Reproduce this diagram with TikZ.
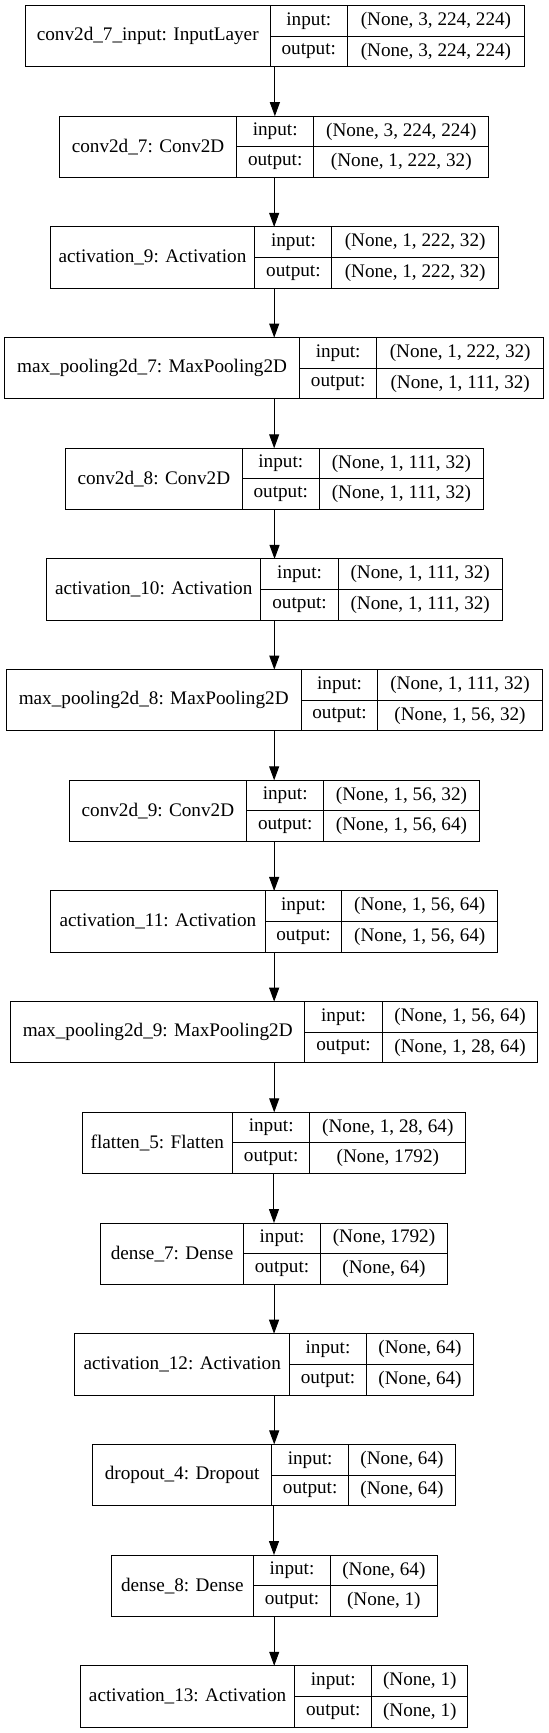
\documentclass[tikz,border=0pt]{standalone}
\usepackage{fontspec}
\setmainfont{Liberation Serif}
\usetikzlibrary{arrows.meta}
\newcommand\layerrow[9]{%
  \pgfmathsetmacro\wA{(#4-#3)*0.8285}%
  \pgfmathsetmacro\wB{(#5-#4)*0.8285}%
  \pgfmathsetmacro\wC{(#6-#5)*0.8285}%
  \pgfmathsetmacro\wT{(#6-#3)*0.8285}%
  \node[outerbox, minimum width=\wT pt] (#1) at (#3,#2) {};
  \node[cell, minimum width=\wA pt, minimum height=45.98pt] (#1-name) at (#3,#2) {#7};
  \node[cell, minimum width=\wB pt, minimum height=22.99pt] (#1-ik) at (#4,#2) {input:};
  \node[cell, minimum width=\wB pt, minimum height=22.99pt] (#1-ok) at (#1-ik.south west) {output:};
  \node[cell, minimum width=\wC pt, minimum height=22.99pt] (#1-iv) at (#5,#2) {#8};
  \node[cell, minimum width=\wC pt, minimum height=22.99pt] (#1-ov) at (#1-iv.south west) {#9};
}
\begin{document}
\begin{tikzpicture}[x=0.8285pt, y=-0.8285pt,
  cell/.style={draw=black, line width=0.75pt, inner sep=0pt, outer sep=0pt, anchor=north west,
    font=\fontsize{14.4}{16}\selectfont},
  outerbox/.style={draw=none, inner sep=0pt, outer sep=0pt, anchor=north west, minimum height=45.98pt},
  conn/.style={draw=black, line width=0.75pt, -{Triangle[length=10.5pt, width=7.5pt]}}]
\fill[white] (0,0) rectangle (497,1568.9);
\useasboundingbox (0,0) rectangle (497,1568.9);
\layerrow{L1}{5}{22.8}{244.7}{314.4}{474.9}{conv2d\_7\_input: InputLayer}{(None, 3, 224, 224)}{(None, 3, 224, 224)}
\layerrow{L2}{105.2}{53.8}{214.3}{284.0}{442.6}{conv2d\_7: Conv2D}{(None, 3, 224, 224)}{(None, 1, 222, 32)}
\layerrow{L3}{205.4}{45.3}{230.8}{300.5}{451.2}{activation\_9: Activation}{(None, 1, 222, 32)}{(None, 1, 222, 32)}
\layerrow{L4}{305.6}{4.1}{271.3}{341.0}{492.3}{max\_pooling2d\_7: MaxPooling2D}{(None, 1, 222, 32)}{(None, 1, 111, 32)}
\layerrow{L5}{405.8}{59.2}{219.4}{289.0}{437.9}{conv2d\_8: Conv2D}{(None, 1, 111, 32)}{(None, 1, 111, 32)}
\layerrow{L6}{506}{42.1}{236.2}{306.2}{454.6}{activation\_10: Activation}{(None, 1, 111, 32)}{(None, 1, 111, 32)}
\layerrow{L7}{606.2}{5.7}{272.6}{342.2}{490.7}{max\_pooling2d\_8: MaxPooling2D}{(None, 1, 111, 32)}{(None, 1, 56, 32)}
\layerrow{L8}{706.4}{62.7}{223.2}{293.2}{433.7}{conv2d\_9: Conv2D}{(None, 1, 56, 32)}{(None, 1, 56, 64)}
\layerrow{L9}{806.6}{45.9}{240.0}{309.6}{450.5}{activation\_11: Activation}{(None, 1, 56, 64)}{(None, 1, 56, 64)}
\layerrow{L10}{906.8}{9.5}{276.0}{346.0}{487.0}{max\_pooling2d\_9: MaxPooling2D}{(None, 1, 56, 64)}{(None, 1, 28, 64)}
\layerrow{L11}{1007}{74.4}{210.5}{280.5}{421.7}{flatten\_5: Flatten}{(None, 1, 28, 64)}{(None, 1792)}
\layerrow{L12}{1107.2}{91.2}{220.4}{290.3}{405.0}{dense\_7: Dense}{(None, 1792)}{(None, 64)}
\layerrow{L13}{1207.4}{67.8}{262.1}{331.8}{428.7}{activation\_12: Activation}{(None, 64)}{(None, 64)}
\layerrow{L14}{1307.6}{83.9}{246.0}{315.6}{412.2}{dropout\_4: Dropout}{(None, 64)}{(None, 64)}
\layerrow{L15}{1407.8}{100.7}{229.5}{299.2}{395.8}{dense\_8: Dense}{(None, 64)}{(None, 1)}
\layerrow{L16}{1508}{72.8}{266.9}{336.5}{423.6}{activation\_13: Activation}{(None, 1)}{(None, 1)}
\foreach \a/\b in {L1/L2,L2/L3,L3/L4,L4/L5,L5/L6,L6/L7,L7/L8,L8/L9,L9/L10,L10/L11,L11/L12,L12/L13,L13/L14,L14/L15,L15/L16}
  \draw[conn] (\a.south) -- (\a.south |- \b.north);
\end{tikzpicture}
\end{document}
